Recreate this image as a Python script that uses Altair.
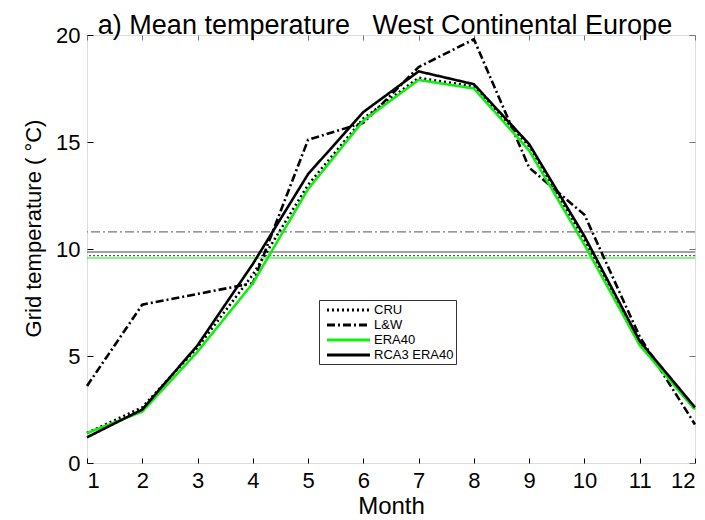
import altair as alt
import pandas as pd

months = list(range(1, 13))
series_names = ["CRU", "L&W", "ERA40", "RCA3 ERA40"]
cru = [1.4, 2.6, 5.4, 8.8, 13.0, 16.1, 18.0, 17.6, 14.8, 10.4, 5.6, 2.5]
lw = [3.6, 7.4, 7.9, 8.4, 15.1, 15.9, 18.5, 19.8, 13.8, 11.6, 5.9, 1.8]
era40 = [1.4, 2.4, 5.2, 8.4, 12.8, 16.0, 17.9, 17.5, 14.6, 10.2, 5.5, 2.5]
rca3 = [1.2, 2.5, 5.5, 9.3, 13.5, 16.4, 18.3, 17.7, 14.9, 10.6, 5.7, 2.6]
mean_values = [9.69, 10.8, 9.58, 9.86]

series_colors = ["#000000", "#000000", "#11ee11", "#000000"]
series_dash = [[2, 3], [8, 3, 2, 3], [1, 0], [1, 0]]
mean_colors = ["#555555", "#777777", "#11ee11", "#444444"]
mean_dash = [[2, 2], [9, 3, 2, 3], [1, 0], [1, 0]]

rows = []
for name, vals in zip(series_names, [cru, lw, era40, rca3]):
    for m, v in zip(months, vals):
        rows.append({"month": m, "temp": v, "series": name})
df = pd.DataFrame(rows)
mean_df = pd.DataFrame({"series": series_names, "value": mean_values})

font = "Liberation Sans"
xscale = alt.Scale(domain=[1, 12], nice=False, zero=False)
yscale = alt.Scale(domain=[0, 20], nice=False)

legend_kw = dict(title=None, orient="none", legendX=232, legendY=265,
                 symbolType="M-0.31,0H6.31", symbolSize=169, symbolStrokeWidth=2.8,
                 labelFont=font, labelFontSize=13, labelColor="black",
                 strokeColor="#333333", fillColor="white", padding=2,
                 rowPadding=0, labelOffset=37, cornerRadius=0)

rules = alt.Chart(mean_df).mark_rule(strokeWidth=1.2).encode(
    y=alt.Y("value:Q", scale=yscale, axis=None),
    color=alt.Color("series:N", scale=alt.Scale(domain=series_names, range=mean_colors), legend=None),
    strokeDash=alt.StrokeDash("series:N", scale=alt.Scale(domain=series_names, range=mean_dash), legend=None),
)

lines = alt.Chart(df).mark_line(strokeWidth=2.6).encode(
    x=alt.X("month:Q", scale=xscale,
            axis=alt.Axis(orient="bottom", values=months, title="Month", offset=-5, tickSize=5,
                          domain=False, labelPadding=7, titlePadding=3, labelFontSize=22,
                          titleFontSize=24, titleFontWeight="normal", labelFont=font, titleFont=font,
                          tickColor="black", labelColor="black", titleColor="black", grid=False)),
    y=alt.Y("temp:Q", scale=yscale,
            axis=alt.Axis(orient="left", values=[0, 5, 10, 15, 20], title="Grid temperature ( °C)",
                          offset=-6, tickSize=6, domain=False, labelPadding=7,
                          titleX=-48, titleY=193,
                          labelFontSize=22, titleFontSize=22, titleFontWeight="normal",
                          labelFont=font, titleFont=font, tickColor="black", labelColor="black",
                          titleColor="black", grid=False)),
    color=alt.Color("series:N", scale=alt.Scale(domain=series_names, range=series_colors),
                    legend=alt.Legend(**legend_kw)),
    strokeDash=alt.StrokeDash("series:N", scale=alt.Scale(domain=series_names, range=series_dash),
                              legend=alt.Legend(**legend_kw)),
)

frame = alt.Chart(df).mark_point(opacity=0).encode(
    x=alt.X("month:Q", scale=xscale,
            axis=alt.Axis(orient="top", values=months, title=None, labels=False, offset=-5,
                          tickSize=5, domain=False, tickColor="#777777", grid=False)),
    y=alt.Y("temp:Q", scale=yscale,
            axis=alt.Axis(orient="right", values=[0, 5, 10, 15, 20], title=None, labels=False,
                          offset=-6, tickSize=6, domain=False, tickColor="#777777", grid=False)),
)

chart = alt.layer(rules, lines, frame).resolve_scale(
    color="independent", strokeDash="independent"
).resolve_axis(
    x="independent", y="independent"
).properties(
    width=608, height=428,
    autosize=alt.AutoSizeParams(type="none"),
    padding={"left": 79, "top": 27, "right": 2, "bottom": 57},
    title=alt.TitleParams("a) Mean temperature\u00a0\u00a0\u00a0West Continental Europe",
                          fontSize=27, font=font, fontWeight="normal", anchor="middle",
                          offset=-16, dx=-6, color="black"),
).configure_view(stroke="black", strokeWidth=1).configure(background="white")

chart.save("out.html", embed_options={"renderer": "svg", "actions": False})
